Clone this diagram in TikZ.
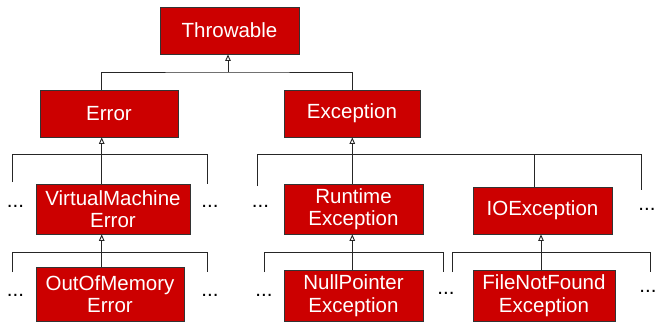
\documentclass[tikz,border=0pt]{standalone}
\usepackage{fontspec}
\setmainfont{Liberation Sans}
\usetikzlibrary{arrows.meta}
\definecolor{rouge}{HTML}{CC0000}

\begin{document}
\begin{tikzpicture}[x=1pt, y=-1pt, >={Triangle[open, length=6.5pt, width=5.5pt]},
  classe/.style={rectangle, draw=black!80, line width=0.8pt, fill=rouge, text=white,
    inner sep=0pt, align=center, font=\fontsize{20.5}{22.5}\selectfont},
  points/.style={inner sep=0pt, font=\fontsize{20.5}{22.5}\selectfont},
  lien/.style={draw=black!85, line width=0.9pt}]

% Le cadre de l'image
\useasboundingbox[fill=white] (0,0) rectangle (657,322);

% Les classes (nœuds)
\node[classe, minimum width=139pt, minimum height=47pt] (Thr) at (229.5,30.5) {Throwable};
\node[classe, minimum width=138pt, minimum height=47pt] (Err) at (109,113.5) {Error};
\node[classe, minimum width=136pt, minimum height=47pt] (Exc) at (352,113.5) {Exception};
\node[classe, minimum width=154pt, minimum height=50pt] (VM) at (113,209) {VirtualMachine\\Error};
\node[classe, minimum width=139pt, minimum height=50pt] (Rt) at (353.5,209) {Runtime\\Exception};
\node[classe, minimum width=139pt, minimum height=47pt] (IO) at (542.5,210.5) {IOException};
\node[classe, minimum width=148pt, minimum height=54pt] (OOM) at (110,294) {OutOfMemory\\Error};
\node[classe, minimum width=139pt, minimum height=51pt] (NP) at (353.5,295.5) {NullPointer\\Exception};
\node[classe, minimum width=142pt, minimum height=51pt] (FNF) at (544,295.5) {FileNotFound\\Exception};

% Les points de suspension
\foreach \x/\y [count=\d] in {15.5/206, 210/206.5, 15.5/295, 210/295, 260.5/206,
  647/209, 264/295, 446/293, 648/291}
\node[points] (P\d) at (\x,\y) {...};

% Les points de jonction
\coordinate (b1) at (228,72);
\coordinate (b2) at (101.7,154.7);
\coordinate (b3) at (101.7,252.7);
\coordinate (b4) at (352.3,154.7);
\coordinate (b5) at (352.3,252.7);
\coordinate (b6) at (541,252.7);

% Les extrémités libres
\coordinate (f2g) at (12.7,182);  \coordinate (f2d) at (207.7,184);
\coordinate (f3g) at (12.7,272);  \coordinate (f3d) at (207.7,272);
\coordinate (f4g) at (257.3,186); \coordinate (f4d) at (641,190);
\coordinate (f5g) at (264,272);   \coordinate (f5d) at (443.3,272);
\coordinate (f6g) at (452.3,272); \coordinate (f6d) at (650,272);

% Throwable
\draw[lien] ([xshift=-7.3]Err.north) |- (b1) -| (Exc.north);
\draw[lien, ->] (b1) -- (b1 |- Thr.south);

% Error et VirtualMachineError
\foreach \b/\p/\e in {2/Err/VM, 3/VM/OOM} {
\draw[lien] (f\b g) |- (b\b) -| (f\b d);
\draw[lien] (b\b |- \e.north) -- (b\b);
\draw[lien, ->] (b\b) -- (b\b |- \p.south);
}

% Exception
\draw[lien] (f4g) |- (b4) -| (f4d);
\draw[lien] (b4 |- Rt.north) -- (b4);
\draw[lien] ([xshift=-7.8]IO.north) |- (b4);
\draw[lien, ->] (b4) -- (b4 |- Exc.south);

% RuntimeException et IOException
\foreach \b/\p/\e in {5/Rt/NP, 6/IO/FNF} {
\draw[lien] (f\b g) |- (b\b) -| (f\b d);
\draw[lien] (b\b |- \e.north) -- (b\b);
\draw[lien, ->] (b\b) -- (b\b |- \p.south);
}

\end{tikzpicture}
\end{document}
